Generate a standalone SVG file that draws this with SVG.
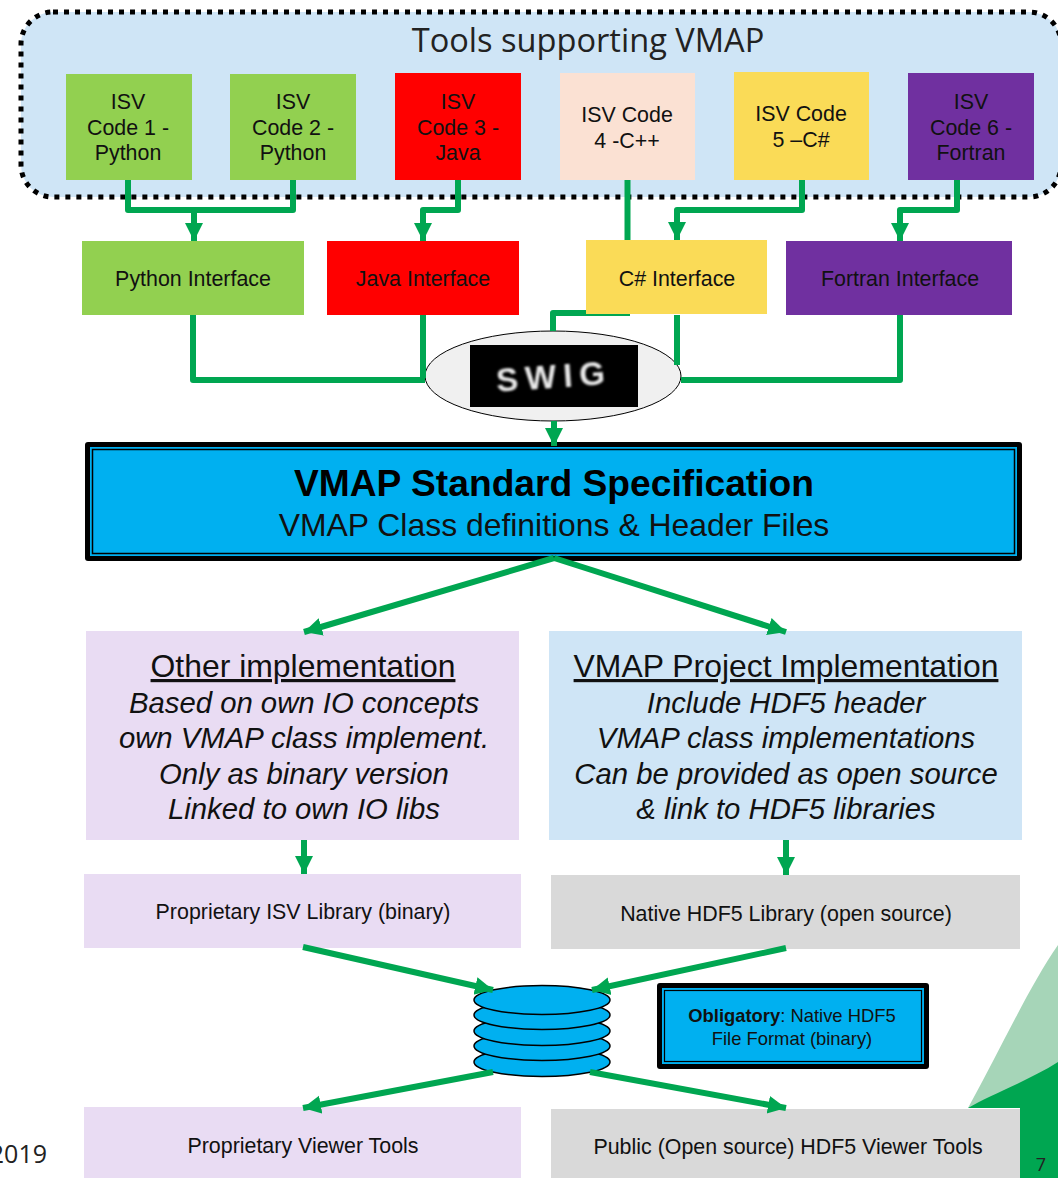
<svg xmlns="http://www.w3.org/2000/svg" width="1058" height="1178" viewBox="0 0 1058 1178">
<defs>
<marker id="a" markerUnits="userSpaceOnUse" markerWidth="20" markerHeight="20" refX="18" refY="10" orient="auto"><path d="M0 1L18 10L0 19z" fill="#00a651"/></marker>
<filter id="b" x="-10%" y="-10%" width="120%" height="120%"><feGaussianBlur stdDeviation="0.8"/></filter>
</defs>
<style>
text{font-family:"Liberation Sans",Arial,sans-serif;text-anchor:middle;fill:#111}
.t{font-size:21.4px}
.h{font-size:31.9px}
.i{font-size:29.3px;font-style:italic}
.o{font-family:"Open Sans","Noto Sans",sans-serif;fill:#222}
.c{fill:none;stroke:#00a651;stroke-width:6;stroke-linejoin:round}
.c6{fill:none;stroke:#00a651;stroke-width:6;stroke-linejoin:round;marker-end:url(#a)}
.d{fill:#00b0f0;stroke:#000;stroke-width:1.5}
</style>
<rect width="1058" height="1178" fill="#fff"/>
<g id="bg-corner">
<path d="M1058 945C1030 985 1000 1050 968 1108H1058z" fill="#a6d5b8"/>
<path d="M1058 1062C1030 1080 990 1095 968 1108H1020V1178H1058z" fill="#00a651"/>
</g>
<g id="tools-container">
<rect x="21" y="12" width="1040" height="185" rx="32" fill="#cfe5f6" stroke="#000" stroke-width="5" stroke-dasharray="5 6"/>
<text class="o" x="588" y="52" font-size="32.600">Tools supporting VMAP</text>
</g>
<g id="isv1"><rect x="66" y="74" width="126" height="106" fill="#92d050"/><text class="t" x="128" y="109">ISV</text><text class="t" x="128" y="135">Code 1 -</text><text class="t" x="128" y="160">Python</text></g>
<g id="isv2"><rect x="230" y="74" width="126" height="106" fill="#92d050"/><text class="t" x="293" y="109">ISV</text><text class="t" x="293" y="135">Code 2 -</text><text class="t" x="293" y="160">Python</text></g>
<g id="isv3"><rect x="395" y="73" width="126" height="107" fill="#ff0000"/><text class="t" x="458" y="109">ISV</text><text class="t" x="458" y="135">Code 3 -</text><text class="t" x="458" y="160">Java</text></g>
<g id="isv4"><rect x="560" y="73" width="135" height="107" fill="#fbe1d3"/><text class="t" x="627" y="122">ISV Code</text><text class="t" x="627" y="148">4 -C++</text></g>
<g id="isv5"><rect x="734" y="72" width="135" height="108" fill="#fadb57"/><text class="t" x="801" y="121">ISV Code</text><text class="t" x="801" y="147">5 –C#</text></g>
<g id="isv6"><rect x="908" y="73" width="126" height="107" fill="#7030a0"/><text class="t" x="971" y="109">ISV</text><text class="t" x="971" y="135">Code 6 -</text><text class="t" x="971" y="160">Fortran</text></g>
<g id="python-if"><rect x="82" y="241" width="222" height="74" fill="#92d050"/><text class="t" x="193" y="286">Python Interface</text></g>
<g id="java-if"><rect x="327" y="241" width="192" height="74" fill="#ff0000"/><text class="t" x="423" y="286">Java Interface</text></g>
<g id="csharp-if"><rect x="586" y="240" width="181" height="74" fill="#fadb57"/><text class="t" x="677" y="286">C# Interface</text></g>
<g id="fortran-if"><rect x="786" y="241" width="226" height="74" fill="#7030a0"/><text class="t" x="900" y="286">Fortran Interface</text></g>
<g id="swig">
<ellipse cx="553" cy="376" rx="128" ry="45" fill="#f0f0f0" stroke="#000" stroke-width="1"/>
<rect x="470" y="345" width="168" height="62" fill="#000"/>
<text x="554" y="388" font-size="33" font-weight="bold" letter-spacing="7" transform="rotate(-4 553 376)" filter="url(#b)" style="fill:#eaeaea">SWIG</text>
</g>
<g id="spec">
<rect x="85" y="442" width="937" height="119" rx="3" fill="#000"/>
<rect x="90" y="447" width="927" height="109" fill="#00b0f0"/>
<rect x="92.500" y="449.500" width="922" height="104" fill="#00b0f0" stroke="#000" stroke-width="1.500"/>
<text x="554" y="496" font-size="37.200" font-weight="bold" style="fill:#000">VMAP Standard Specification</text>
<text x="554" y="536" font-size="31.900">VMAP Class definitions &amp; Header Files</text>
</g>
<g id="other-impl">
<rect x="86" y="631" width="433" height="209" fill="#e9dcf3"/>
<text class="h" x="303" y="677" text-decoration="underline">Other implementation</text>
<text class="i" x="304" y="713">Based on own IO concepts</text>
<text class="i" x="304" y="748">own VMAP class implement.</text>
<text class="i" x="304" y="784">Only as binary version</text>
<text class="i" x="304" y="819">Linked to own IO libs</text>
</g>
<g id="vmap-impl">
<rect x="549" y="631" width="473" height="209" fill="#cfe5f6"/>
<text class="h" x="786" y="677" text-decoration="underline">VMAP Project Implementation</text>
<text class="i" x="786" y="713">Include HDF5 header</text>
<text class="i" x="786" y="748">VMAP class implementations</text>
<text class="i" x="786" y="784">Can be provided as open source</text>
<text class="i" x="786" y="819">&amp; link to HDF5 libraries</text>
</g>
<g id="isv-lib"><rect x="84" y="874" width="437" height="74" fill="#e9dcf3"/><text class="t" x="303" y="919">Proprietary ISV Library (binary)</text></g>
<g id="hdf5-lib"><rect x="551" y="875" width="469" height="74" fill="#d9d9d9"/><text class="t" x="786" y="921">Native HDF5 Library (open source)</text></g>
<g id="database">
<ellipse class="d" cx="542" cy="1062" rx="68" ry="14.500"/>
<ellipse class="d" cx="542" cy="1046" rx="68" ry="14.500"/>
<ellipse class="d" cx="542" cy="1031" rx="68" ry="14.500"/>
<ellipse class="d" cx="542" cy="1015" rx="68" ry="14.500"/>
<ellipse class="d" cx="542" cy="1000" rx="68" ry="14.500"/>
</g>
<g id="obligatory">
<rect x="657" y="983" width="272" height="86" rx="3" fill="#000"/>
<rect x="662" y="988" width="262" height="76" fill="#00b0f0"/>
<rect x="664.500" y="990.500" width="257" height="71" fill="#00b0f0" stroke="#000" stroke-width="1.200"/>
<text x="792" y="1022" font-size="18.400"><tspan font-weight="bold">Obligatory</tspan>: Native HDF5</text>
<text x="792" y="1045" font-size="18.400">File Format (binary)</text>
</g>
<g id="viewer1"><rect x="84" y="1107" width="437" height="71" fill="#e9dcf3"/><text class="t" x="303" y="1153">Proprietary Viewer Tools</text></g>
<g id="viewer2"><rect x="551" y="1109" width="469" height="69" fill="#d9d9d9"/><text class="t" x="788" y="1154">Public (Open source) HDF5 Viewer Tools</text></g>
<g id="connectors">
<path class="c" d="M128 180V210H293V180"/><path class="c6" d="M194 210V241"/>
<path class="c6" d="M458 180V210H423V241"/>
<path class="c" d="M627.500 180V240"/>
<path class="c6" d="M802 180V210H677V240"/>
<path class="c6" d="M957 180V210H900V241"/>
<path class="c" d="M193 315V380H425M423 315V378"/>
<path class="c" d="M553 331V313H586"/>
<path class="c" style="stroke-width:2" d="M586 315H630"/>
<path class="c" d="M677 315V365"/>
<path class="c" d="M681 380H900V315"/>
<path class="c6" d="M554 421V446"/>
<path class="c6" d="M554 558L304 632"/>
<path class="c6" d="M554 558L786 632"/>
<path class="c6" d="M304 840V874"/>
<path class="c6" d="M786 840V875"/>
<path class="c6" d="M303 947L493 990"/>
<path class="c6" d="M786 948L592 990"/>
<path class="c6" d="M493 1072L303 1108"/>
<path class="c6" d="M590 1072L786 1108"/>
</g>
<text class="o" x="47" y="1163" font-size="25" style="text-anchor:end">2019</text>
<text class="o" x="1041" y="1171" font-size="18">7</text>
</svg>
